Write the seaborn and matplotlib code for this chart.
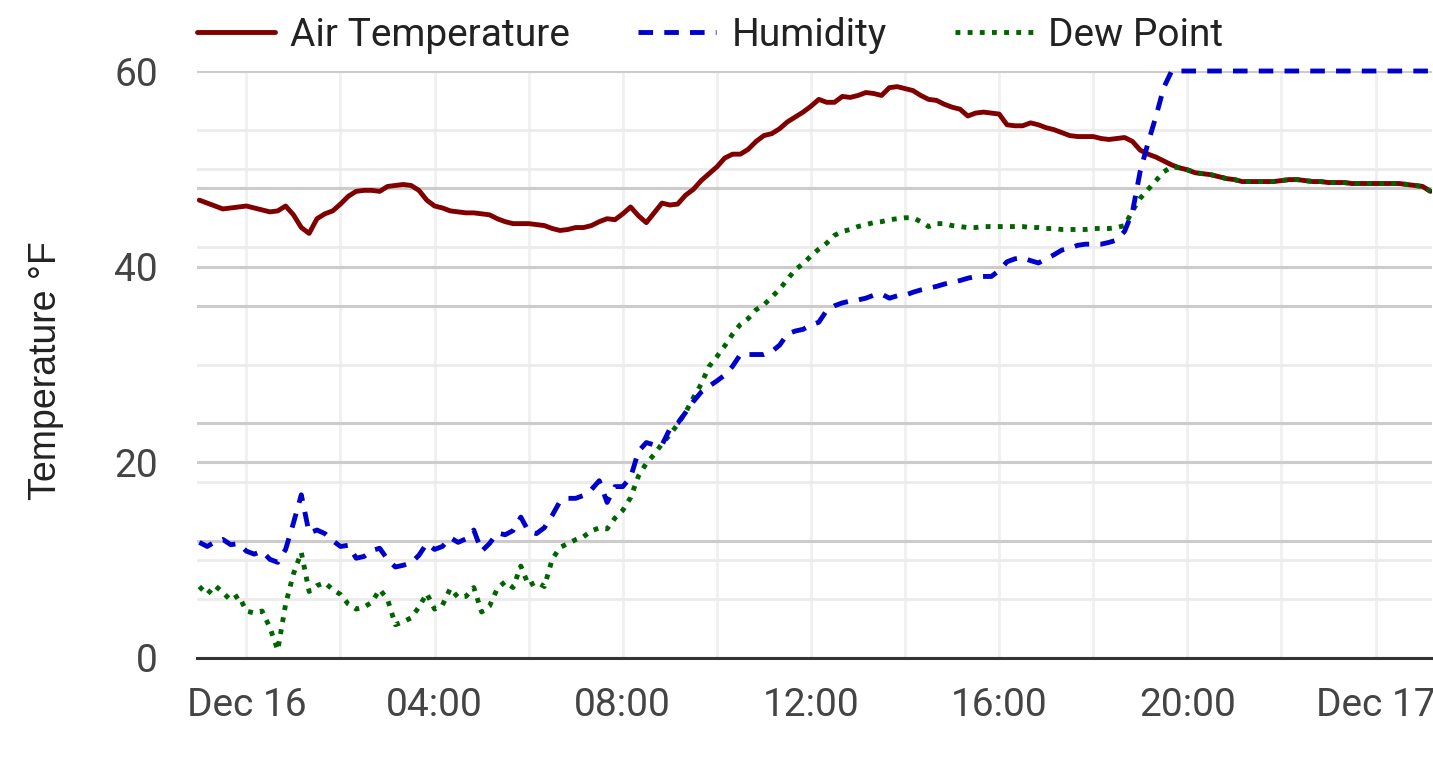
import pandas as pd
import matplotlib
matplotlib.use("Agg")
import matplotlib.pyplot as plt
import matplotlib.dates as mdates
import matplotlib.ticker as mticker
from matplotlib.lines import Line2D
import seaborn as sns

# readings every 10 minutes, from 23:00 Dec 15 to 01:10 Dec 17
times = pd.date_range("2023-12-15 23:00", periods=158, freq="10min")

air_temp = [
    46.8, 46.5, 46.2, 45.9, 46.0, 46.1, 46.2, 46.0, 45.8, 45.6,
    45.7, 46.2, 45.3, 44.0, 43.4, 44.9, 45.4, 45.7, 46.4, 47.2,
    47.7, 47.8, 47.8, 47.7, 48.2, 48.3, 48.4, 48.3, 47.8, 46.8,
    46.2, 46.0, 45.7, 45.6, 45.5, 45.5, 45.4, 45.3, 44.9, 44.6,
    44.4, 44.4, 44.4, 44.3, 44.2, 43.9, 43.7, 43.8, 44.0, 44.0,
    44.2, 44.6, 44.9, 44.8, 45.4, 46.1, 45.2, 44.5, 45.5, 46.5,
    46.3, 46.4, 47.3, 47.9, 48.8, 49.5, 50.2, 51.1, 51.5, 51.5,
    52.0, 52.8, 53.4, 53.6, 54.1, 54.8, 55.3, 55.8, 56.4, 57.1,
    56.8, 56.8, 57.4, 57.3, 57.5, 57.8, 57.7, 57.5, 58.3, 58.4,
    58.2, 58.0, 57.5, 57.1, 57.0, 56.6, 56.3, 56.1, 55.4, 55.7,
    55.8, 55.7, 55.6, 54.5, 54.4, 54.4, 54.7, 54.5, 54.2, 54.0,
    53.7, 53.4, 53.3, 53.3, 53.3, 53.1, 53.0, 53.1, 53.2, 52.8,
    51.9, 51.5, 51.2, 50.8, 50.4, 50.1, 49.9, 49.6, 49.5, 49.4,
    49.2, 49.0, 48.9, 48.7, 48.7, 48.7, 48.7, 48.7, 48.8, 48.9,
    48.9, 48.8, 48.7, 48.7, 48.6, 48.6, 48.6, 48.5, 48.5, 48.5,
    48.5, 48.5, 48.5, 48.5, 48.4, 48.3, 48.2, 47.7,
]

# relative humidity in %, drawn against the hidden right axis (0-100 %)
humidity = [
    19.7, 19.0, 19.8, 20.2, 19.3, 19.5, 18.2, 17.7, 18.2, 16.8,
    16.3, 18.5, 23.0, 27.8, 21.3, 21.8, 21.2, 20.0, 19.0, 19.2,
    17.0, 17.3, 18.3, 18.7, 16.8, 15.5, 15.8, 16.2, 17.5, 19.5,
    18.5, 19.0, 20.5, 19.7, 20.3, 21.8, 18.2, 19.5, 21.3, 21.0,
    21.7, 24.0, 21.5, 21.2, 22.2, 24.3, 26.7, 27.2, 27.2, 27.7,
    28.7, 30.2, 26.5, 29.2, 29.2, 30.8, 35.2, 36.7, 36.3, 36.3,
    39.0, 40.0, 41.8, 43.7, 45.3, 46.3, 47.2, 48.2, 49.7, 51.7,
    51.7, 51.7, 51.7, 52.2, 53.3, 55.2, 55.7, 56.0, 56.7, 57.2,
    59.2, 60.0, 60.5, 60.8, 61.0, 61.3, 61.8, 62.0, 61.3, 61.7,
    61.8, 62.3, 62.7, 63.0, 63.3, 63.7, 64.0, 64.3, 64.7, 65.0,
    65.0, 65.0, 66.0, 67.5, 68.0, 68.2, 67.7, 67.3, 68.0, 68.7,
    69.5, 69.8, 70.3, 70.5, 70.5, 70.5, 70.8, 71.2, 72.7, 76.0,
    83.0, 87.8, 92.3, 97.2, 100, 100, 100, 100, 100, 100,
    100, 100, 100, 100, 100, 100, 100, 100, 100, 100,
    100, 100, 100, 100, 100, 100, 100, 100, 100, 100,
    100, 100, 100, 100, 100, 100, 100, 100,
]

dew_point = [
    7.3, 6.5, 7.4, 6.7, 5.9, 6.4, 4.8, 4.6, 4.8, 3.1,
    0.8, 5.5, 8.6, 10.8, 6.8, 7.4, 7.7, 7.0, 6.5, 5.5,
    5.0, 5.2, 5.7, 7.0, 6.0, 3.4, 3.7, 4.1, 5.2, 6.6,
    5.0, 5.4, 7.1, 6.2, 6.3, 7.2, 4.7, 5.3, 7.1, 7.8,
    7.2, 9.4, 7.4, 7.8, 7.3, 10.1, 11.3, 11.7, 12.1, 12.4,
    13.0, 13.3, 13.2, 14.3, 15.1, 16.4, 18.6, 19.9, 20.8, 21.9,
    22.8, 23.9, 25.1, 26.6, 28.0, 29.8, 30.8, 31.9, 33.1, 34.1,
    34.7, 35.6, 36.1, 36.9, 37.7, 38.7, 39.7, 40.3, 41.1, 41.8,
    42.4, 43.2, 43.6, 43.8, 44.1, 44.3, 44.5, 44.6, 44.8, 44.9,
    45.0, 45.0, 44.6, 44.1, 44.4, 44.4, 44.2, 44.1, 44.0, 44.0,
    44.1, 44.1, 44.1, 44.1, 44.1, 44.1, 44.0, 44.0, 43.9, 43.9,
    43.8, 43.8, 43.8, 43.8, 43.9, 43.9, 43.9, 44.0, 44.2, 45.7,
    47.0, 47.9, 48.8, 49.7, 50.2, 50.1, 49.9, 49.6, 49.5, 49.4,
    49.2, 49.0, 48.9, 48.7, 48.7, 48.7, 48.7, 48.7, 48.8, 48.9,
    48.9, 48.8, 48.7, 48.7, 48.6, 48.6, 48.6, 48.5, 48.5, 48.5,
    48.5, 48.5, 48.5, 48.5, 48.4, 48.3, 48.2, 47.7,
]

series_names = ["Air Temperature", "Humidity", "Dew Point"]
series_colors = ["#800000", "#0000cc", "#006400"]
series_styles = ["-", (0, (3.0, 2.3)), (0, (1.0, 1.5))]
LW = 3.5

TEMP_MAX = 60
HUM_MAX = 100

sns.set_theme(style="white")
plt.rcParams["font.family"] = ["Roboto", "DejaVu Sans"]

fig = plt.figure(figsize=(14.33, 7.71), dpi=100)
ax = fig.add_axes([197 / 1433, 113 / 771, 1235 / 1433, 587 / 771])

# horizontal grid: temperature ticks plus the (hidden) humidity axis ticks
temp_major = [0, 20, 40, 60]
temp_minor = [10, 30, 50]
hum_major = [p * TEMP_MAX / HUM_MAX for p in range(0, 101, 20)]
hum_minor = [p * TEMP_MAX / HUM_MAX for p in range(10, 100, 20)]
major_pos = sorted(set(temp_major + hum_major))
minor_pos = sorted(set(temp_minor + hum_minor) - set(major_pos))

ax.yaxis.set_major_locator(mticker.FixedLocator(major_pos))
ax.yaxis.set_minor_locator(mticker.FixedLocator(minor_pos))
ax.yaxis.set_major_formatter(mticker.FuncFormatter(
    lambda v, p: f"{v:.0f}" if round(v) in temp_major and abs(v - round(v)) < 1e-6 else ""))

ax.xaxis.set_major_locator(mdates.HourLocator(byhour=range(0, 24, 4)))
ax.xaxis.set_minor_locator(mdates.HourLocator(byhour=range(0, 24, 2)))


def fmt_time(v, pos):
    d = mdates.num2date(v)
    return d.strftime("%b %d") if d.hour == 0 else d.strftime("%H:%M")


ax.xaxis.set_major_formatter(mticker.FuncFormatter(fmt_time))

ax.grid(axis="y", which="major", color="#cccccc", linewidth=2.2)
ax.grid(axis="y", which="minor", color="#ebebeb", linewidth=2.0)
ax.grid(axis="x", which="both", color="#f0f0f0", linewidth=2.0)
ax.set_axisbelow(True)

sns.lineplot(x=times, y=air_temp, ax=ax, color=series_colors[0],
             linestyle=series_styles[0], linewidth=LW, zorder=3)
sns.lineplot(x=times, y=dew_point, ax=ax, color=series_colors[2],
             linestyle=series_styles[2], linewidth=LW, zorder=4)

ax.set_ylim(0, TEMP_MAX)
ax.set_xlim(pd.Timestamp("2023-12-15 22:57"), pd.Timestamp("2023-12-17 01:12"))
ax.set_xlabel("")
ax.set_ylabel("Temperature °F", fontsize=27, family=["Liberation Sans", "DejaVu Sans"],
              color="#222222")
ax.yaxis.set_label_coords(-0.108, 0.49)

for side in ["top", "left", "right"]:
    ax.spines[side].set_visible(False)
ax.spines["bottom"].set_color("#333333")
ax.spines["bottom"].set_linewidth(2.2)
ax.spines["bottom"].set_zorder(5)

ax.tick_params(axis="both", which="both", length=0, labelsize=28, labelcolor="#444444")
ax.tick_params(axis="x", pad=21)
ax.tick_params(axis="y", pad=28)

# humidity on its own 0-100 % axis, labels hidden
ax_h = ax.twinx()
sns.lineplot(x=times, y=humidity, ax=ax_h, color=series_colors[1],
             linestyle=series_styles[1], linewidth=LW, clip_on=False)
ax_h.set_ylim(0, HUM_MAX)
ax_h.set_axis_off()

handles = [Line2D([], [], color=c, linestyle=s, linewidth=LW)
           for c, s in zip(series_colors, series_styles)]
leg = fig.legend(handles, series_names, loc="center left",
                 bbox_to_anchor=(197 / 1433, 1 - 35 / 771), ncol=3, frameon=False,
                 fontsize=28, handlelength=2.0, handletextpad=0.4,
                 columnspacing=1.75, borderaxespad=0, borderpad=0)
for t in leg.get_texts():
    t.set_color("#222222")

fig.savefig("out.png", dpi=100)
